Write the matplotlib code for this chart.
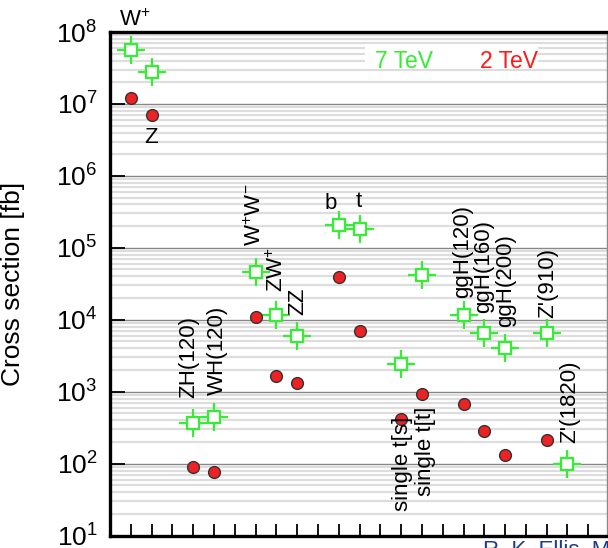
import matplotlib.pyplot as plt
import numpy as np

plt.rcParams['font.family'] = ['Liberation Sans', 'DejaVu Sans']
plt.rcParams['mathtext.fontset'] = 'custom'
plt.rcParams['mathtext.rm'] = 'Liberation Sans'
plt.rcParams['mathtext.it'] = 'Liberation Sans:italic'

# process slots along the x axis and cross sections in fb
positions = [1, 2, 4, 5, 7, 8, 9, 11, 12, 14, 15, 17, 18, 19, 21, 22]
labels = ['W$^{+}$', 'Z', 'ZH(120)', 'WH(120)', 'W$^{+}$W$^{-}$', 'ZW$^{+}$', 'ZZ',
          'b', 't', 'single t[s]', 'single t[t]', 'ggH(120)', 'ggH(160)',
          'ggH(200)', "Z'(910)", "Z'(1820)"]
xs_7tev = [5.6e7, 2.8e7, 3.7e2, 4.5e2, 4.6e4, 1.17e4, 6.0e3, 2.1e5, 1.8e5,
           2.45e3, 4.2e4, 1.17e4, 6.5e3, 4.0e3, 6.5e3, 1.0e2]
xs_2tev = [1.2e7, 7.0e6, 90, 76, 1.1e4, 1.66e3, 1.3e3, 3.9e4, 6.9e3,
           415, 935, 675, 280, 130, 215, np.nan]

green = '#33ee33'
red = '#ff1a1a'

fig = plt.figure(figsize=(6.08, 5.48), dpi=100)
ax = fig.add_axes([110 / 608, 1 - 535.5 / 548, 497 / 608, 503.5 / 548])

# 7 TeV: open square with error-bar cross
ax.plot(positions, xs_7tev, ls='none', marker='+', markersize=20,
        mew=1.6, color=green, zorder=4)
ax.plot(positions, xs_7tev, ls='none', marker='s', markersize=9.3,
        mew=1.6, mec=green, mfc='white', zorder=5)
# 2 TeV: red dots
ax.plot(positions, xs_2tev, ls='none', marker='o', markersize=8.5,
        mew=1.0, mec='#333333', mfc='#ee2222', zorder=5)

ax.set_yscale('log')
ax.set_ylim(10, 1e8)
ax.set_xlim(0, 23.9)

# label placement: (which series, dx px, dy px, rotation, ha, va)
place = [
    ('7', -12, 24, 0, 'left', 'baseline'),
    ('2', 0, -28, 0, 'center', 'baseline'),
    ('7', -4, 25, 90, 'center', 'bottom'),
    ('7', 3, 22, 90, 'center', 'bottom'),
    ('7', 0, 26, 90, 'center', 'bottom'),
    ('7', 1, 23, 90, 'center', 'bottom'),
    ('7', 1, 21, 90, 'center', 'bottom'),
    ('7', -8, 16, 0, 'center', 'baseline'),
    ('7', -1, 22, 0, 'center', 'baseline'),
    ('2', 1, 2, 90, 'center', 'top'),
    ('2', 4, -13, 90, 'center', 'top'),
    ('7', -1, 17, 90, 'center', 'bottom'),
    ('7', -1, 20, 90, 'center', 'bottom'),
    ('7', 1, 21, 90, 'center', 'bottom'),
    ('7', 1, 15, 90, 'center', 'bottom'),
    ('7', 2, 21, 90, 'center', 'bottom'),
]
for x, lab, y7, y2, (which, dx, dy, rot, ha, va) in zip(positions, labels, xs_7tev, xs_2tev, place):
    y = y7 if which == '7' else y2
    ax.annotate(lab, xy=(x, y), xytext=(dx, dy), textcoords='offset pixels',
                rotation=rot, ha=ha, va=va, fontsize=16, annotation_clip=False, zorder=6)

# legend-like labels on a white patch
ax.add_patch(plt.Rectangle((0.513, 0.927), 0.348, 0.05, transform=ax.transAxes,
                           facecolor='white', edgecolor='none', zorder=3))
ax.text(0.533, 0.942, '7 TeV', color=green, fontsize=16.5, va='center',
        transform=ax.transAxes, zorder=6)
ax.text(0.744, 0.942, '2 TeV', color=red, fontsize=16.5, va='center',
        transform=ax.transAxes, zorder=6)

# grid
ax.grid(True, which='major', axis='y', color='#888888', lw=1.0, zorder=1)
ax.grid(True, which='minor', axis='y', color='#dddddd', lw=1.6, zorder=1)
ax.set_axisbelow(True)

# ticks
ax.set_xticks(range(1, 24))
ax.set_xticklabels([])
ax.tick_params(axis='x', which='major', direction='in', length=9, width=1.3,
               top=False, bottom=True)
ax.tick_params(axis='y', which='major', direction='in', length=11, width=1.3,
               labelsize=19, pad=9, right=False)
ax.tick_params(axis='y', which='minor', length=0)

for side in ['left', 'top', 'bottom']:
    ax.spines[side].set_linewidth(2.4)
ax.spines['right'].set_color('#888888')
ax.spines['right'].set_linewidth(1.0)

ax.set_ylabel('Cross section [fb]', fontsize=19)
ax.yaxis.set_label_coords(-0.171, 0.5)

fig.text(483 / 608, 1 - 540 / 548, 'R. K. Ellis, M', color='#1f3a93',
         fontsize=16, ha='left', va='top')

fig.savefig('out.png', dpi=100)
